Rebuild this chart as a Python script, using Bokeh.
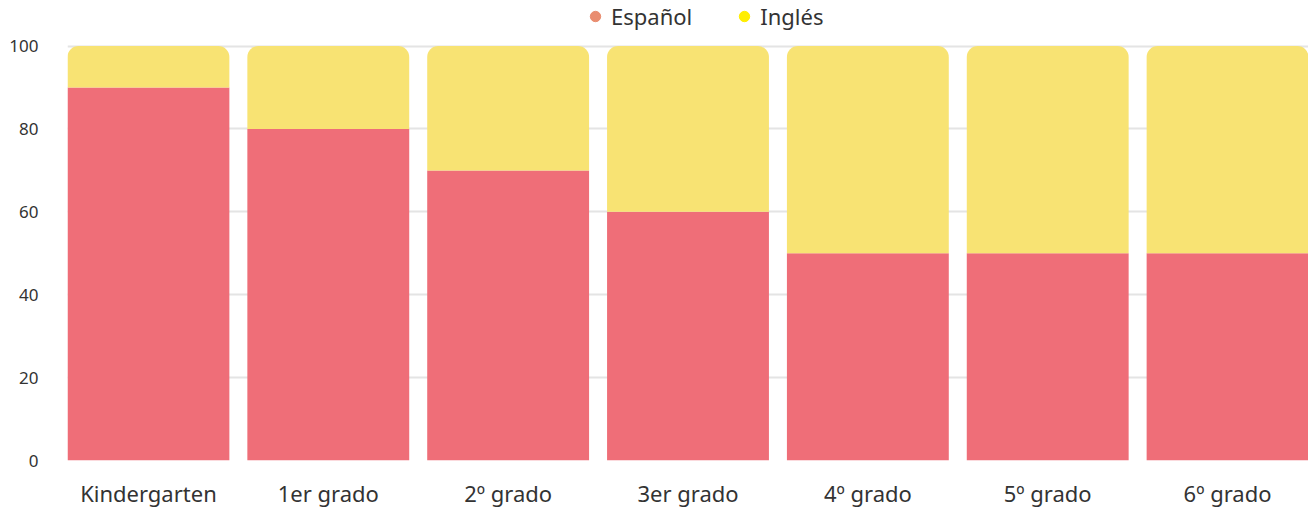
from bokeh.plotting import figure
from bokeh.models import ColumnDataSource, FactorRange, Range1d, FixedTicker, Legend, LegendItem
from bokeh.embed import file_html
from bokeh.resources import INLINE

grades = ["Kindergarten", "1er grado", "2º grado", "3er grado", "4º grado", "5º grado", "6º grado"]
espanol = [90, 80, 70, 60, 50, 50, 50]
ingles = [10, 20, 30, 40, 50, 50, 50]
y_ticks = [0, 20, 40, 60, 80, 100]

tops = [e + i for e, i in zip(espanol, ingles)]
src = ColumnDataSource(dict(g=grades, esp=espanol, ing=ingles, top=tops, zero=[0] * len(grades)))

# headroom above 100 leaves space for the legend inside the frame
p = figure(x_range=FactorRange(factors=grades, range_padding=-0.05, range_padding_units="absolute"),
           y_range=Range1d(0, 111), width=1308, height=510,
           output_backend="svg", toolbar_location=None,
           min_border_left=67, min_border_right=0, min_border_top=0, min_border_bottom=48)

p.vbar(x="g", bottom="zero", top="esp", width=0.9, source=src, color="#EF6E78", line_color=None)
p.vbar(x="g", bottom="esp", top="top", width=0.9, source=src, color="#F8E373", line_color=None,
       border_radius=(11, 11, 0, 0))

# legend-only markers (placed below the visible range, so only the legend shows them)
r_es = p.scatter(x=[grades[0]], y=[-100], marker="circle", size=11, color="#E98D70")
r_in = p.scatter(x=[grades[0]], y=[-100], marker="circle", size=11, color="#FFEE00")

legend = Legend(items=[LegendItem(label="Español", renderers=[r_es]),
                       LegendItem(label="Inglés", renderers=[r_in])],
                orientation="horizontal", location=(515, 429),
                label_text_font="Noto Sans", label_text_font_size="22px", label_text_color="#333333",
                glyph_width=26, glyph_height=26, spacing=39, label_standoff=3,
                background_fill_alpha=0, border_line_color=None, padding=2, margin=0)
p.add_layout(legend, "center")

p.outline_line_color = None
p.xgrid.grid_line_color = None
p.ygrid.grid_line_color = "#e4e4e4"
p.ygrid.grid_line_width = 2
p.yaxis.ticker = FixedTicker(ticks=y_ticks)

for ax in (p.xaxis, p.yaxis):
    ax.axis_line_color = None
    ax.major_tick_line_color = None
    ax.minor_tick_line_color = None

p.xaxis.major_label_text_font = "Noto Sans"
p.xaxis.major_label_text_font_size = "22px"
p.xaxis.major_label_text_color = "#333333"
p.xaxis.major_label_standoff = 11
p.yaxis.major_label_text_font = "Noto Sans"
p.yaxis.major_label_text_font_size = "17px"
p.yaxis.major_label_text_color = "#333333"
p.yaxis.major_label_standoff = 23

open("out.html", "w").write(file_html(p, INLINE))
